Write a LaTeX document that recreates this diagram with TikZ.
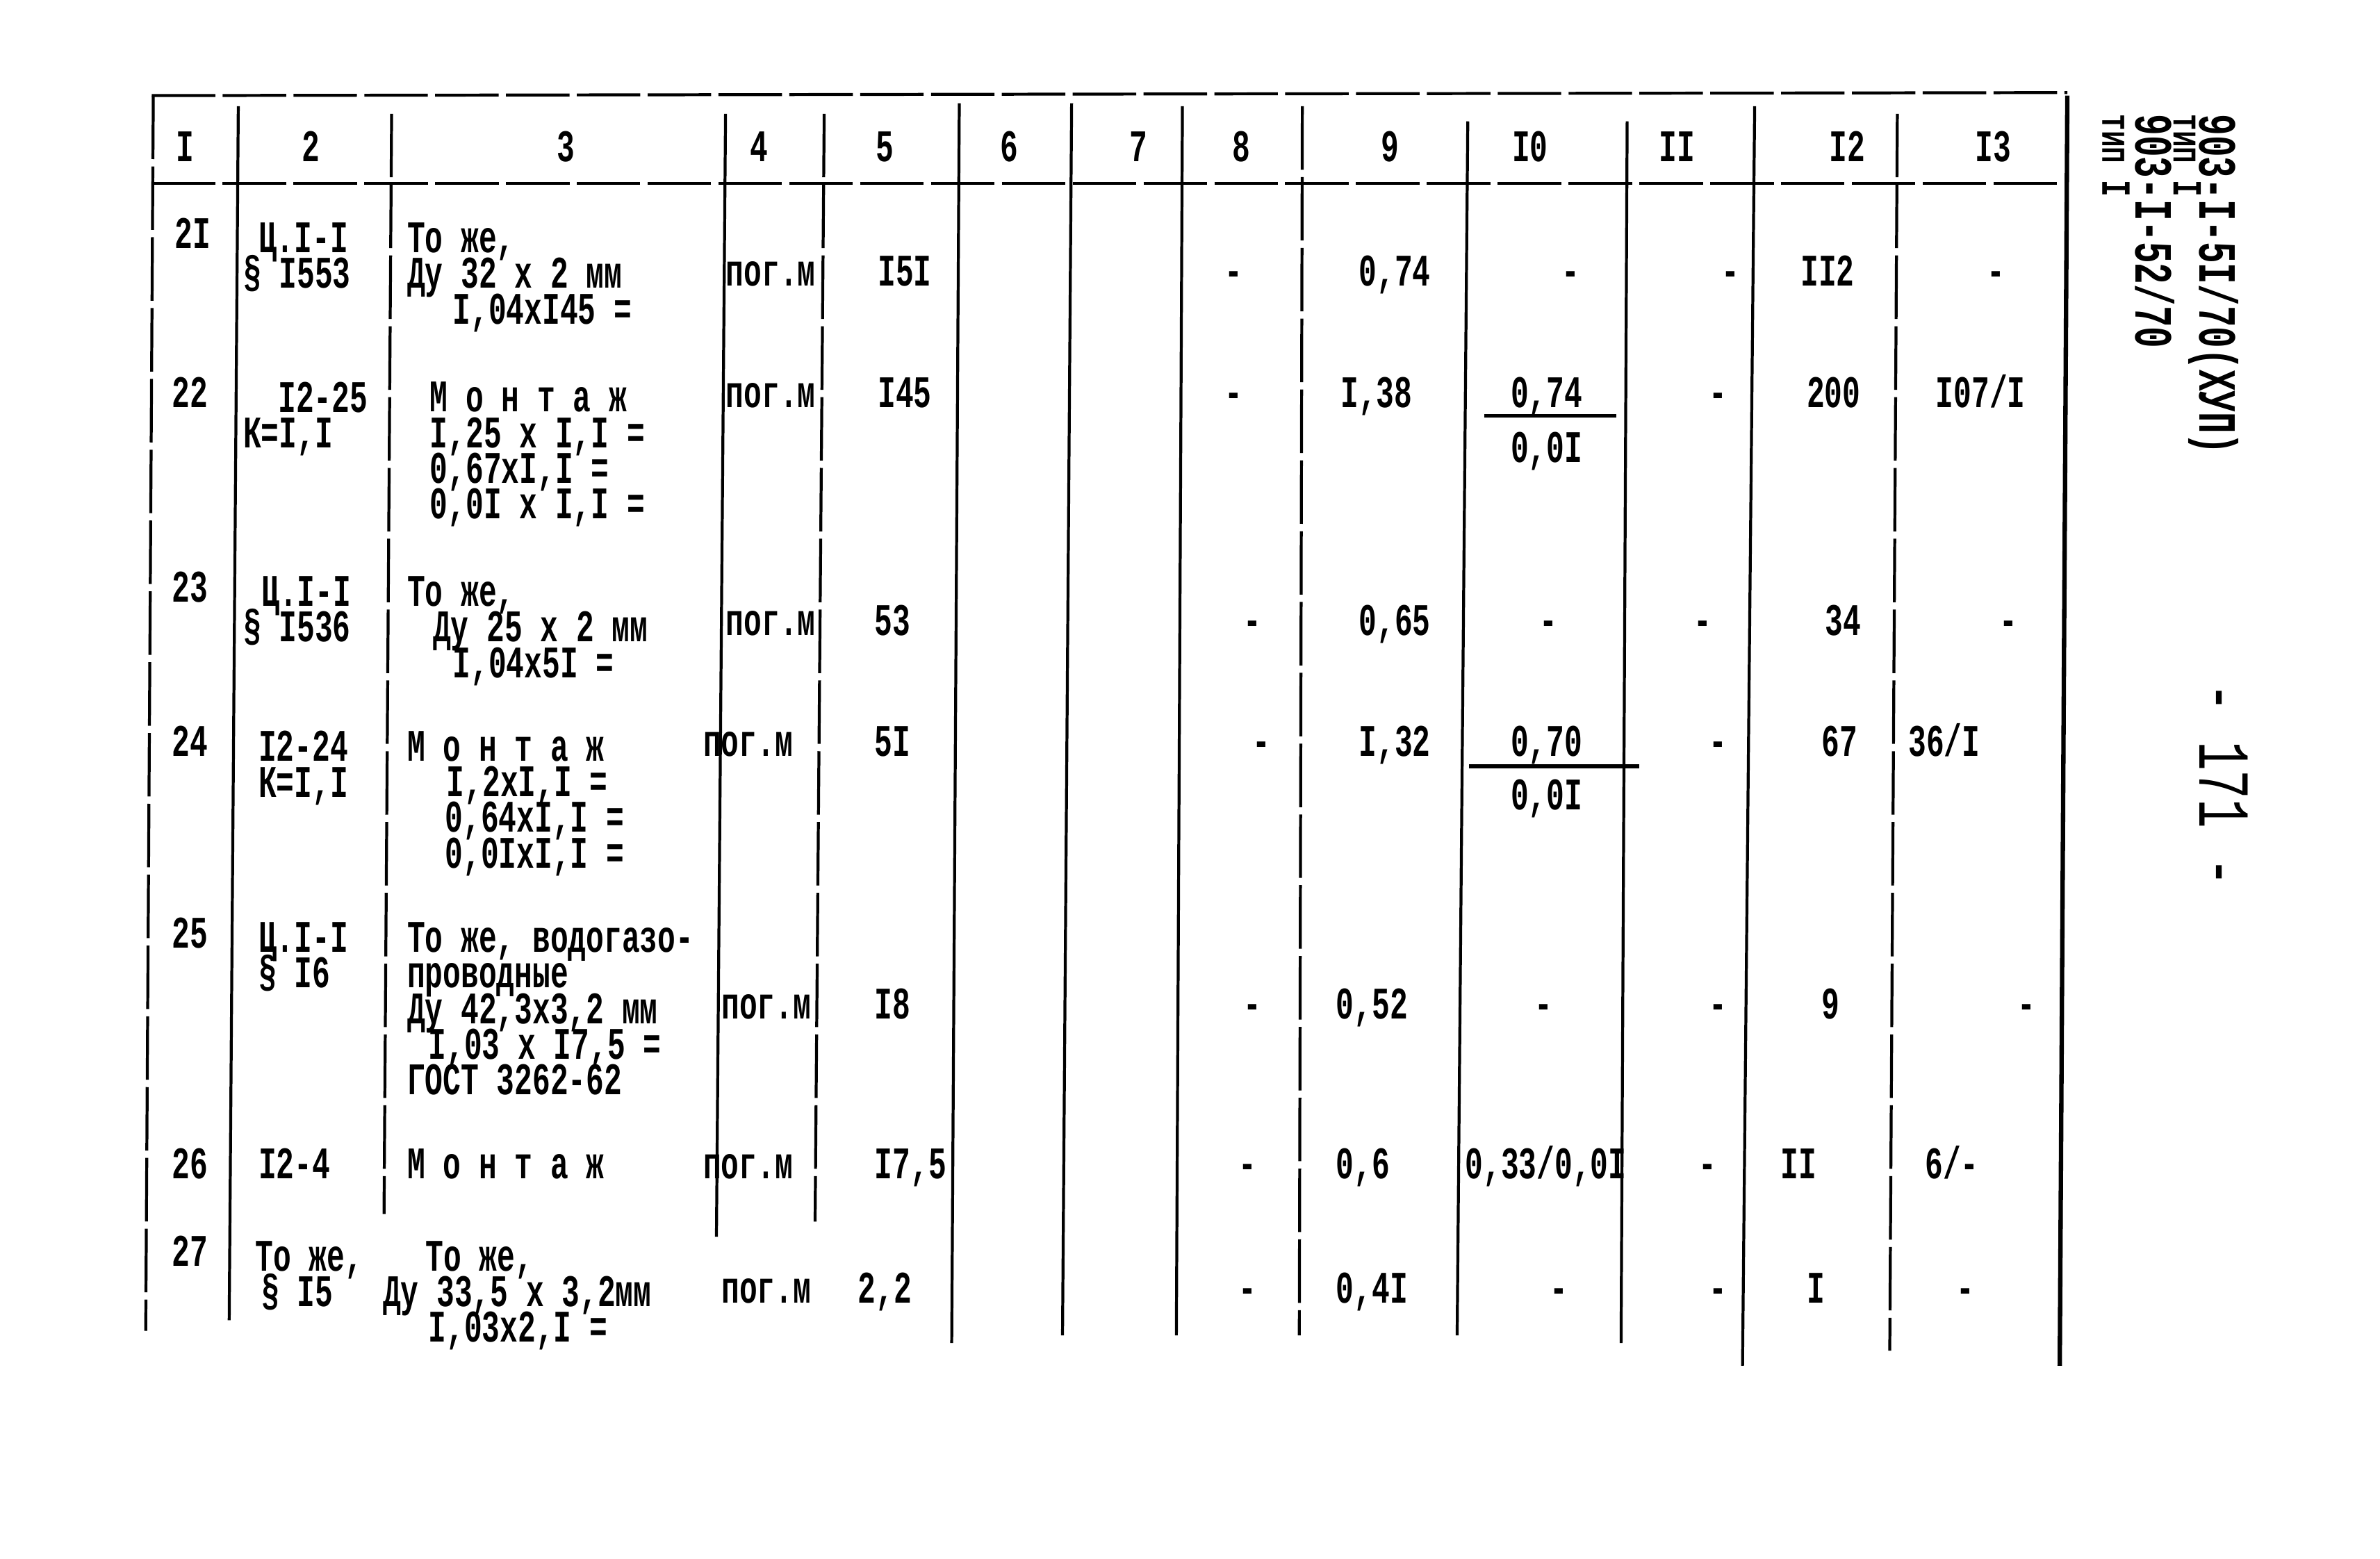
\documentclass[tikz,border=0pt]{standalone}
\usepackage{fontspec}
\newfontfamily\typew{Liberation Mono}[FakeStretch=0.66]
\newlength\unitpx
\setlength\unitpx{0.2184mm}
\newcommand{\pushin}[1]{\hspace*{#1\unitpx}}
\newcommand{\cellfont}{\typew\bfseries\fontsize{18.5}{14.6}\selectfont\setlength{\lineskiplimit}{-30pt}}

\begin{document}
\begin{tikzpicture}[x=0.2184mm, y=-0.2184mm,
		cell/.style={anchor=base west, inner sep=0pt, font=\cellfont},
		block/.style={cell, anchor=north west, align=left},
		head/.style={cell, anchor=base},
		nil/.style={cell, anchor=base},
		side/.style={anchor=base west, inner sep=0pt, rotate=-90},
		rule/.style={line width=1.2pt},
		broken/.style={rule, dash pattern=on 26pt off 3pt}]

		\useasboundingbox (0,0) rectangle (1568,1027);

		% rules of the table
		\draw[broken] (100,63) -- (1362,61);
		\draw[broken] (100,121) -- (1362,121);
		\draw[broken] (101,63) -- (96,877);
		\draw[rule] (157,70) -- (151,870);
		\draw[broken] (258,75) -- (253,800);
		\draw[rule] (478,75) -- (472,815);
		\draw[broken] (543,75) -- (537,805);
		\draw[rule] (632,68) -- (627,885);
		\draw[rule] (706,68) -- (700,880);
		\draw[rule] (779,70) -- (775,880);
		\draw[broken] (858,70) -- (856,880);
		\draw[rule] (967,80) -- (960,880);
		\draw[rule] (1072,80) -- (1068,885);
		\draw[rule] (1156,70) -- (1148,900);
		\draw[broken] (1250,75) -- (1245,890);
		\draw[rule, line width=1.8pt] (1362,63) -- (1357,900);

		% header
		\node (h1) at (122,106.5) [head] {I};
		\node (h2) at (205,106.5) [head] {2};
		\node (h3) at (373,106.5) [head] {3};
		\node (h4) at (500,106.5) [head] {4};
		\node (h5) at (583,106.5) [head] {5};
		\node (h6) at (665,106.5) [head] {6};
		\node (h7) at (750,106.5) [head] {7};
		\node (h8) at (818,106.5) [head] {8};
		\node (h9) at (916,106.5) [head] {9};
		\node (h10) at (1008,106.5) [head] {I0};
		\node (h11) at (1105,106.5) [head] {II};
		\node (h12) at (1217,106.5) [head] {I2};
		\node (h13) at (1313,106.5) [head] {I3};

		% row 21
		\node (r21a) at (115,163.5) [cell] {2I};
		\node (r21b) at (160,146.5) [block] {\pushin{10}Ц.I-I\\§ I553};
		\node (r21c) at (268,146.5) [block] {То же,\\Ду 32 х 2 мм\\\pushin{30}I,04хI45 =};
		\node (r21d) at (478,188.5) [cell] {пог.м};
		\node (r21e) at (578,188.5) [cell] {I5I};
		\node (r21h) at (813,188.5) [nil] {-};
		\node (r21i) at (895,188.5) [cell] {0,74};
		\node (r21j) at (1035,188.5) [nil] {-};
		\node (r21k) at (1140,188.5) [nil] {-};
		\node (r21l) at (1186,188.5) [cell] {II2};
		\node (r21m) at (1315,188.5) [nil] {-};

		% row 22
		\node (r22a) at (113,268.5) [cell] {22};
		\node (r22b) at (160,251.5) [block] {\pushin{23}I2-25\\К=I,I};
		\node (r22c) at (283,251.5) [block] {М о н т а ж\\I,25 х I,I =\\0,67хI,I =\\0,0I х I,I =};
		\node (r22d) at (478,268.5) [cell] {пог.м};
		\node (r22e) at (578,268.5) [cell] {I45};
		\node (r22h) at (813,268.5) [nil] {-};
		\node (r22i) at (883,268.5) [cell] {I,38};
		\node (r22j) at (995,268.5) [cell] {0,74};
		\node (r22jj) at (995,304.5) [cell] {0,0I};
		\draw[rule, line width=1.6pt] (978,274) -- (1065,274);
		\node (r22k) at (1132,268.5) [nil] {-};
		\node (r22l) at (1190,268.5) [cell] {200};
		\node (r22m) at (1275,268.5) [cell] {I07/I};

		% row 23
		\node (r23a) at (113,396.5) [cell] {23};
		\node (r23b) at (160,379.5) [block] {\pushin{12}Ц.I-I\\§ I536};
		\node (r23c) at (268,379.5) [block] {То же,\\\pushin{17}Ду 25 х 2 мм\\\pushin{30}I,04х5I =};
		\node (r23d) at (478,418.5) [cell] {пог.м};
		\node (r23e) at (576,418.5) [cell] {53};
		\node (r23h) at (825,418.5) [nil] {-};
		\node (r23i) at (895,418.5) [cell] {0,65};
		\node (r23j) at (1020,418.5) [nil] {-};
		\node (r23k) at (1122,418.5) [nil] {-};
		\node (r23l) at (1202,418.5) [cell] {34};
		\node (r23m) at (1323,418.5) [nil] {-};

		% row 24
		\node (r24a) at (113,498.5) [cell] {24};
		\node (r24b) at (170,481.5) [block] {I2-24\\К=I,I};
		\node (r24c) at (268,481.5) [block] {М о н т а ж\\\pushin{26}I,2хI,I =\\\pushin{25}0,64хI,I =\\\pushin{25}0,0IхI,I =};
		\node (r24d) at (463,498.5) [cell] {пог.м};
		\node (r24e) at (576,498.5) [cell] {5I};
		\node (r24h) at (831,498.5) [nil] {-};
		\node (r24i) at (895,498.5) [cell] {I,32};
		\node (r24j) at (995,498.5) [cell] {0,70};
		\node (r24jj) at (995,533.5) [cell] {0,0I};
		\draw[rule, line width=1.6pt] (968,505) -- (1080,505);
		\node (r24k) at (1132,498.5) [nil] {-};
		\node (r24l) at (1200,498.5) [cell] {67};
		\node (r24m) at (1257,498.5) [cell] {36/I};

		% row 25
		\node (r25a) at (113,624.5) [cell] {25};
		\node (r25b) at (170,607.5) [block] {Ц.I-I\\§ I6};
		\node (r25c) at (268,607.5) [block] {То же, водогазо-\\проводные\\Ду 42,3х3,2 мм\\\pushin{14}I,03 х I7,5 =\\ГОСТ 3262-62};
		\node (r25d) at (475,671.5) [cell] {пог.м};
		\node (r25e) at (576,671.5) [cell] {I8};
		\node (r25h) at (825,671.5) [nil] {-};
		\node (r25i) at (880,671.5) [cell] {0,52};
		\node (r25j) at (1017,671.5) [nil] {-};
		\node (r25k) at (1132,671.5) [nil] {-};
		\node (r25l) at (1200,671.5) [cell] {9};
		\node (r25m) at (1335,671.5) [nil] {-};

		% row 26
		\node (r26a) at (113,776.5) [cell] {26};
		\node (r26b) at (170,776.5) [cell] {I2-4};
		\node (r26c) at (268,776.5) [cell] {М о н т а ж};
		\node (r26d) at (463,776.5) [cell] {пог.м};
		\node (r26e) at (576,776.5) [cell] {I7,5};
		\node (r26h) at (822,776.5) [nil] {-};
		\node (r26i) at (880,776.5) [cell] {0,6};
		\node (r26j) at (965,776.5) [cell] {0,33/0,0I};
		\node (r26k) at (1125,776.5) [nil] {-};
		\node (r26l) at (1173,776.5) [cell] {II};
		\node (r26m) at (1268,776.5) [cell] {6/-};

		% row 27
		\node (r27a) at (113,834.5) [cell] {27};
		\node (r27b) at (168,817.5) [block] {То же,\\\pushin{4}§ I5};
		\node (r27c) at (252,817.5) [block] {\pushin{28}То же,\\Ду 33,5 х 3,2мм\\\pushin{30}I,03х2,I =};
		\node (r27d) at (475,858.5) [cell] {пог.м};
		\node (r27e) at (565,858.5) [cell] {2,2};
		\node (r27h) at (822,858.5) [nil] {-};
		\node (r27i) at (880,858.5) [cell] {0,4I};
		\node (r27j) at (1027,858.5) [nil] {-};
		\node (r27k) at (1132,858.5) [nil] {-};
		\node (r27l) at (1190,858.5) [cell] {I};
		\node (r27m) at (1295,858.5) [nil] {-};

		% side title, turned
		\node (s1) at (1449,75) [side, font=\typew\bfseries\fontsize{22}{22}\selectfont] {903-I-5I/70(ХУП)};
		\node (s2) at (1432,75) [side, font=\typew\bfseries\fontsize{17}{17}\selectfont] {тип I};
		\node (s3) at (1407,75) [side, font=\typew\bfseries\fontsize{22}{22}\selectfont] {903-I-52/70};
		\node (s4) at (1385,75) [side, font=\typew\bfseries\fontsize{17}{17}\selectfont] {тип I};
		\node (pg) at (1449,450) [side, font=\typew\fontsize{30}{30}\selectfont] {- 171 -};
	\end{tikzpicture}
\end{document}
